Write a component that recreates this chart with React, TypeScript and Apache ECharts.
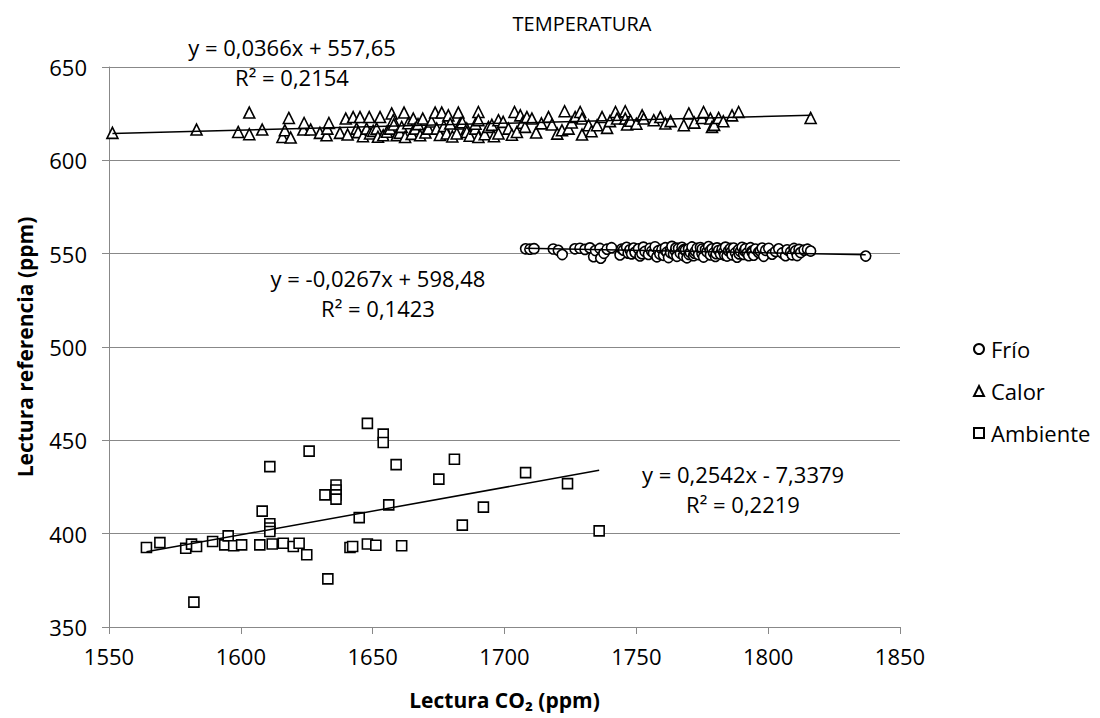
import React, { useEffect, useRef } from "react";
import * as echarts from "echarts";

const title = "TEMPERATURA";
const seriesNames = ["Frío", "Calor", "Ambiente"];
const xTicks = { min: 1550, max: 1850, interval: 50 };
const yTicks = { min: 350, max: 650, interval: 50 };

const frio: number[][] = [
  [1708.0, 552.6], [1709.6, 552.4], [1711.2, 552.7], [1718.5, 552.5], [1720.4, 551.8], [1721.9, 549.5],
  [1726.7, 552.6], [1728.6, 552.9], [1730.5, 552.3], [1732.4, 553.1], [1733.8, 548.4], [1734.5, 551.7],
  [1736.2, 552.8], [1736.5, 547.6], [1737.7, 550.2], [1738.9, 552.4], [1740.6, 553.2], [1743.8, 549.3],
  [1744.5, 552.5], [1745.1, 551.9], [1746.3, 553.4], [1746.9, 550.3], [1747.6, 552.1], [1748.2, 549.9],
  [1749.0, 553.0], [1749.5, 550.7], [1750.8, 552.6], [1751.4, 548.8], [1752.1, 550.0], [1752.7, 553.5],
  [1753.3, 551.2], [1754.6, 549.6], [1755.2, 552.9], [1755.8, 551.3], [1756.5, 550.4], [1757.1, 553.7],
  [1757.8, 548.3], [1758.4, 551.6], [1758.9, 549.8], [1759.7, 552.3], [1760.3, 549.1], [1760.9, 551.8],
  [1761.0, 553.2], [1761.6, 550.8], [1762.2, 547.9], [1762.9, 552.0], [1763.0, 550.5], [1763.5, 553.9],
  [1764.1, 549.7], [1764.8, 551.4], [1765.0, 553.0], [1765.4, 548.6], [1766.0, 552.8], [1766.7, 550.2],
  [1767.3, 553.4], [1767.9, 549.0], [1768.0, 552.2], [1768.6, 551.9], [1769.2, 547.8], [1769.8, 552.5],
  [1770.0, 549.6], [1770.5, 550.6], [1771.1, 553.6], [1771.7, 548.9], [1772.0, 550.3], [1772.4, 551.3],
  [1773.0, 552.9], [1773.6, 549.5], [1774.3, 553.3], [1774.9, 550.1], [1775.0, 552.5], [1775.5, 548.2],
  [1776.2, 552.2], [1776.8, 551.0], [1777.4, 553.8], [1778.0, 551.5], [1778.1, 549.3], [1778.7, 552.6],
  [1779.3, 550.4], [1780.0, 548.5], [1780.3, 550.0], [1780.6, 553.1], [1781.2, 551.7], [1781.9, 549.8],
  [1782.5, 552.4], [1783.1, 550.9], [1783.5, 549.2], [1783.8, 553.5], [1784.4, 548.7], [1785.0, 551.5],
  [1785.7, 552.8], [1786.0, 551.0], [1786.3, 549.4], [1786.9, 553.0], [1787.6, 550.5], [1788.2, 548.1],
  [1788.8, 552.1], [1789.0, 549.9], [1789.5, 551.2], [1790.1, 553.4], [1790.7, 549.6], [1791.0, 551.6],
  [1791.4, 552.7], [1792.0, 550.3], [1792.6, 548.9], [1793.3, 553.2], [1793.9, 551.4], [1794.0, 550.6],
  [1794.5, 549.2], [1795.2, 552.5], [1796.4, 550.7], [1797.0, 551.4], [1797.7, 553.0], [1798.3, 548.6],
  [1799.0, 551.8], [1800.2, 552.9], [1801.5, 549.7], [1802.8, 551.2], [1804.0, 552.6], [1805.3, 550.4],
  [1806.6, 548.9], [1807.2, 552.1], [1808.5, 550.9], [1809.1, 549.4], [1809.8, 552.8], [1810.4, 551.5],
  [1811.0, 549.0], [1811.7, 552.3], [1812.3, 550.6], [1813.6, 551.9], [1814.9, 552.4], [1816.1, 551.4],
  [1837.0, 548.7],
];

const calor: number[][] = [
  [1551.3, 614.7], [1583.2, 616.5], [1599.0, 615.2], [1603.2, 625.6], [1603.2, 614.0], [1608.1, 616.5],
  [1615.8, 612.5], [1616.7, 616.1], [1618.2, 622.7], [1618.9, 612.2], [1623.7, 616.5], [1624.0, 620.0],
  [1626.5, 616.5], [1630.0, 614.7], [1632.5, 613.4], [1632.8, 617.0], [1633.4, 620.0], [1637.6, 614.7],
  [1639.8, 622.4], [1640.5, 613.8], [1642.6, 623.2], [1643.9, 617.0], [1644.5, 615.1], [1645.2, 623.2],
  [1646.3, 612.9], [1647.7, 617.0], [1648.7, 623.2], [1649.0, 614.4], [1650.2, 615.8], [1651.5, 617.0],
  [1652.0, 612.6], [1652.8, 623.2], [1654.0, 613.4], [1655.4, 615.3], [1656.6, 617.0], [1657.2, 625.1],
  [1657.8, 621.5], [1658.0, 619.2], [1659.1, 613.4], [1660.3, 614.7], [1661.0, 617.9], [1661.9, 625.6],
  [1662.3, 612.5], [1663.5, 619.9], [1664.8, 614.2], [1665.4, 622.4], [1666.1, 617.0], [1667.2, 619.4],
  [1668.0, 613.4], [1669.0, 622.4], [1670.0, 614.9], [1671.1, 617.0], [1672.3, 620.8], [1673.7, 625.6],
  [1674.3, 617.0], [1675.5, 613.6], [1676.2, 625.6], [1677.0, 618.3], [1678.1, 614.4], [1678.7, 624.1],
  [1679.4, 619.7], [1680.2, 612.8], [1681.9, 614.4], [1682.5, 625.6], [1683.2, 619.7], [1684.0, 620.4],
  [1685.7, 617.0], [1685.7, 615.2], [1686.8, 613.2], [1688.9, 617.0], [1689.0, 619.6], [1690.1, 625.9],
  [1690.1, 621.5], [1690.1, 612.5], [1692.5, 614.0], [1693.9, 617.9], [1695.2, 619.0], [1696.0, 612.9],
  [1697.7, 621.5], [1697.7, 614.4], [1699.5, 620.6], [1701.5, 617.0], [1702.8, 613.7], [1703.8, 625.9],
  [1704.7, 615.2], [1706.0, 624.1], [1706.8, 620.1], [1707.8, 617.9], [1708.5, 623.2], [1710.4, 622.4],
  [1712.0, 614.9], [1714.0, 619.8], [1716.7, 623.2], [1718.0, 619.2], [1720.0, 614.3], [1721.8, 616.1],
  [1722.8, 626.3], [1724.3, 617.0], [1725.5, 620.3], [1726.8, 623.2], [1728.7, 625.9], [1729.4, 622.4],
  [1729.4, 613.8], [1731.9, 618.8], [1733.0, 615.6], [1735.1, 618.8], [1737.0, 623.2], [1738.9, 617.4],
  [1740.0, 621.0], [1742.1, 625.9], [1742.7, 622.4], [1745.8, 626.3], [1745.8, 622.4], [1746.5, 619.2],
  [1747.8, 621.2], [1750.0, 619.6], [1752.2, 624.1], [1752.8, 622.4], [1756.6, 621.5], [1759.1, 623.2],
  [1761.0, 619.7], [1763.0, 621.0], [1768.0, 618.8], [1769.9, 625.1], [1772.0, 620.2], [1774.9, 622.7],
  [1775.5, 625.9], [1778.1, 622.4], [1778.7, 617.9], [1779.5, 619.0], [1781.2, 622.7], [1783.0, 620.9],
  [1786.3, 624.1], [1788.8, 625.9], [1816.1, 622.7],
];

const ambiente: number[][] = [
  [1564.2, 392.6], [1569.3, 395.2], [1579.1, 392.2], [1581.3, 394.4], [1583.2, 393.1], [1582.2, 363.3],
  [1589.3, 395.8], [1593.9, 394.0], [1595.2, 398.8], [1597.3, 393.5], [1600.3, 394.0], [1608.1, 412.1],
  [1607.2, 394.0], [1611.0, 435.9], [1611.0, 405.3], [1611.0, 403.0], [1611.0, 401.2], [1611.9, 394.5],
  [1616.1, 394.9], [1619.9, 393.1], [1622.1, 394.9], [1625.0, 388.7], [1625.9, 444.2], [1631.9, 420.8],
  [1636.1, 426.1], [1636.1, 423.4], [1636.1, 420.8], [1636.1, 418.5], [1633.0, 375.8], [1641.4, 392.6],
  [1642.4, 393.1], [1644.9, 408.6], [1648.0, 459.1], [1648.0, 394.5], [1651.2, 393.8], [1654.0, 453.3],
  [1654.0, 448.8], [1656.1, 415.4], [1658.9, 437.0], [1661.0, 393.5], [1675.1, 429.2], [1681.0, 439.9],
  [1684.0, 404.6], [1692.0, 414.2], [1708.0, 432.7], [1723.9, 426.8], [1735.9, 401.5],
];

const trendSlopes = [-0.0267, 0.0366, 0.2542];
const trendIntercepts = [598.48, 557.65, -7.3379];
const trendEquations = ["y = -0,0267x + 598,48", "y = 0,0366x + 557,65", "y = 0,2542x - 7,3379"];
const trendR2 = ["R² = 0,1423", "R² = 0,2154", "R² = 0,2219"];

const FONT = "'Open Sans', 'Liberation Sans', sans-serif";
const GRAY = "#888888";

function trendLine(data: number[][], slope: number, intercept: number) {
  const xs = data.map((d) => d[0]);
  const x0 = Math.min(...xs);
  const x1 = Math.max(...xs);
  return [
    [x0, slope * x0 + intercept],
    [x1, slope * x1 + intercept],
  ];
}

export default function App() {
  const ref = useRef<HTMLDivElement>(null);
  useEffect(() => {
    if (!ref.current) return;
    const chart = echarts.init(ref.current, undefined, { renderer: "svg" });
    const datasets = [frio, calor, ambiente];
    const symbols = ["circle", "triangle", "rect"];
    const sizes = [10, 11, 10];
    const scatter = datasets.map((d, i) => ({
      name: seriesNames[i],
      type: "scatter",
      data: d,
      symbol: symbols[i],
      symbolSize: sizes[i],
      itemStyle: { color: "#ffffff", borderColor: "#000000", borderWidth: 1.6, opacity: 1 },
      z: 3,
    }));
    const trends = datasets.map((d, i) => ({
      name: seriesNames[i] + " trend",
      type: "line",
      data: trendLine(d, trendSlopes[i], trendIntercepts[i]),
      showSymbol: false,
      symbol: "none",
      lineStyle: { color: "#000000", width: 1.5 },
      z: 4,
      silent: true,
    }));
    const eqPos = [
      [378, 293],
      [292, 62],
      [743, 489],
    ];
    const graphics: any[] = eqPos.map((p, i) => ({
      type: "text",
      x: p[0],
      y: p[1],
      style: {
        text: trendEquations[i] + "\n" + trendR2[i],
        font: `22px ${FONT}`,
        lineHeight: 30,
        fill: "#000",
        textAlign: "center",
        textVerticalAlign: "middle",
      },
    }));
    chart.setOption({
      animation: false,
      backgroundColor: "#ffffff",
      textStyle: { fontFamily: FONT },
      title: {
        text: title,
        left: 577,
        top: 8,
        textAlign: "center",
        textStyle: { fontFamily: FONT, fontSize: 20, fontWeight: "normal", color: "#000" },
      },
      legend: {
        data: seriesNames,
        orient: "vertical",
        left: 968,
        top: 329,
        itemGap: 12,
        itemWidth: 10,
        itemHeight: 10,
        textStyle: { fontFamily: FONT, fontSize: 22, color: "#000", lineHeight: 30, padding: [0, 0, 0, 2] },
      },
      grid: { left: 109, right: 200, top: 67, bottom: 91, containLabel: false },
      xAxis: {
        type: "value",
        min: xTicks.min,
        max: xTicks.max,
        interval: xTicks.interval,
        name: "Lectura CO₂ (ppm)",
        nameLocation: "middle",
        nameGap: 62,
        nameTextStyle: { fontFamily: FONT, fontSize: 21, fontWeight: "bold", color: "#000" },
        axisLine: { show: true, lineStyle: { color: GRAY, width: 1 } },
        axisTick: { show: true, length: 7, lineStyle: { color: GRAY } },
        axisLabel: { fontSize: 22, color: "#000", margin: 18, fontFamily: FONT, formatter: (v: number) => String(v) },
        splitLine: { show: false },
      },
      yAxis: {
        type: "value",
        min: yTicks.min,
        max: yTicks.max,
        interval: yTicks.interval,
        name: "Lectura referencia (ppm)",
        nameLocation: "middle",
        nameGap: 74,
        nameTextStyle: { fontFamily: FONT, fontSize: 21, fontWeight: "bold", color: "#000" },
        axisLine: { show: true, lineStyle: { color: GRAY, width: 1 } },
        axisTick: { show: true, length: 7, lineStyle: { color: GRAY } },
        axisLabel: { fontSize: 22, color: "#000", margin: 22, fontFamily: FONT, formatter: (v: number) => String(v) },
        splitLine: { show: true, lineStyle: { color: GRAY, width: 1 } },
      },
      graphic: graphics,
      series: [...scatter, ...trends],
    });
    return () => chart.dispose();
  }, []);
  return (
    <div
      ref={ref}
      style={{ position: "fixed", left: 0, top: 0, width: 1100, height: 718, background: "#fff" }}
    />
  );
}
